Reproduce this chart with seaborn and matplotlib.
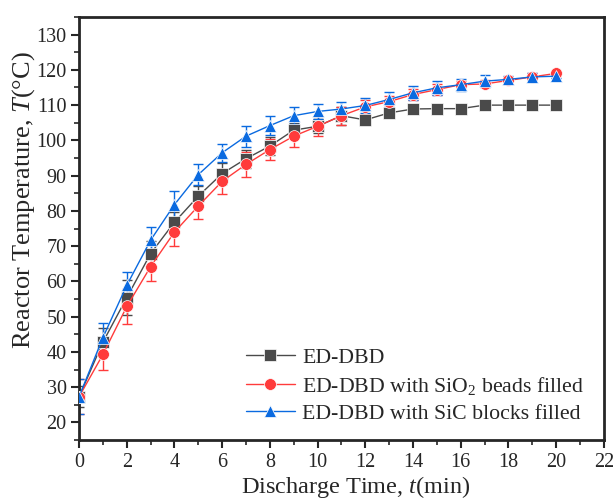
import numpy as np
import pandas as pd
import matplotlib
matplotlib.use("Agg")
import matplotlib.pyplot as plt
import seaborn as sns

t = list(range(0, 21))
ed_dbd = [27.3, 42.8, 55.4, 67.9, 76.8, 84.2, 90.6, 94.8, 98.4, 102.9, 104.0, 107.0, 105.8, 107.8, 108.9, 109.0, 109.0, 110.0, 110.0, 110.0, 110.0]
ed_dbd_err = [3.0, 4.0, 5.0, 3.5, 3.0, 3.0, 3.0, 2.5, 2.5, 2.0, 2.0, 2.5, 1.5, 1.0, 0.6, 0.5, 0.5, 0.5, 0.5, 0.5, 0.5]
sio2 = [27.3, 39.3, 52.9, 64.2, 74.0, 81.4, 88.4, 93.2, 97.4, 101.2, 104.0, 107.0, 109.5, 111.0, 113.0, 114.4, 115.8, 116.0, 117.0, 118.0, 119.0]
sio2_err = [5.0, 4.5, 5.0, 4.0, 4.0, 3.8, 3.5, 3.5, 3.0, 3.0, 2.8, 2.5, 2.0, 1.5, 1.5, 1.5, 1.0, 1.0, 1.0, 1.0, 0.8]
sic = [27.3, 44.1, 58.9, 71.7, 81.8, 90.3, 96.5, 101.2, 104.2, 107.0, 108.2, 108.9, 109.9, 111.6, 113.5, 114.9, 115.8, 116.8, 117.3, 118.0, 118.2]
sic_err = [5.0, 4.2, 3.8, 3.7, 3.8, 3.0, 2.6, 3.0, 2.7, 2.4, 2.0, 2.0, 2.0, 2.0, 2.0, 2.0, 1.7, 1.8, 1.0, 1.0, 0.6]

labels = ["ED-DBD", "ED-DBD with SiO$_2$ beads filled", "ED-DBD with SiC blocks filled"]
colors = ["#4a4a4a", "#ff3b3b", "#0a6ae0"]
markers = ["s", "o", "^"]

df = pd.concat([
    pd.DataFrame({"t": t, "T": ed_dbd, "err": ed_dbd_err, "series": labels[0]}),
    pd.DataFrame({"t": t, "T": sio2, "err": sio2_err, "series": labels[1]}),
    pd.DataFrame({"t": t, "T": sic, "err": sic_err, "series": labels[2]}),
])

sns.set_style("ticks")
plt.rcParams["font.family"] = ["Liberation Serif", "DejaVu Serif"]
plt.rcParams["mathtext.fontset"] = "custom"
plt.rcParams["mathtext.rm"] = "Liberation Serif"
plt.rcParams["mathtext.it"] = "Liberation Serif:italic"

fig = plt.figure(figsize=(6.13, 4.99), dpi=100)
ax = fig.add_axes([0.129, 0.118, 0.856, 0.848])

for lab, col, mk in zip(labels, colors, markers):
    sub = df[df["series"] == lab]
    ax.errorbar(sub["t"], sub["T"], yerr=sub["err"], fmt="none", ecolor=col,
                elinewidth=1.0, capsize=3.5, capthick=1.0, zorder=2)

sns.lineplot(data=df, x="t", y="T", hue="series", style="series",
             palette=dict(zip(labels, colors)), markers=dict(zip(labels, markers)),
             dashes=False, markersize=8.5, linewidth=1.0, markeredgewidth=0.5,
             ax=ax, zorder=3)

ax.set_xlim(0, 22)
ax.set_ylim(15, 135)
ax.set_xticks(np.arange(0, 23, 2))
ax.set_xticks(np.arange(0, 23, 1), minor=True)
ax.set_yticks(np.arange(20, 131, 10))
ax.set_yticks(np.arange(15, 136, 5), minor=True)
ax.tick_params(which="major", direction="out", length=6, width=1.5, labelsize=14.5, pad=3)
ax.tick_params(which="minor", direction="out", length=3.5, width=1.2)
for s in ax.spines.values():
    s.set_linewidth(2.0)
    s.set_visible(True)

ax.set_xlabel("Discharge Time, $\\mathit{t}$(min)", fontsize=17.5)
ax.set_ylabel("Reactor Temperature, $\\mathit{T}$(°C)", fontsize=19)
ax.xaxis.set_label_coords(0.527, -0.079)
ax.yaxis.set_label_coords(-0.080, 0.567)

handles, labs = ax.get_legend_handles_labels()
ax.legend(handles, labs, loc="lower right", bbox_to_anchor=(1.0, -0.008), frameon=False,
          fontsize=15.7, handlelength=2.25, labelspacing=0.32, handletextpad=0.35)

fig.savefig("out.png", dpi=100)
